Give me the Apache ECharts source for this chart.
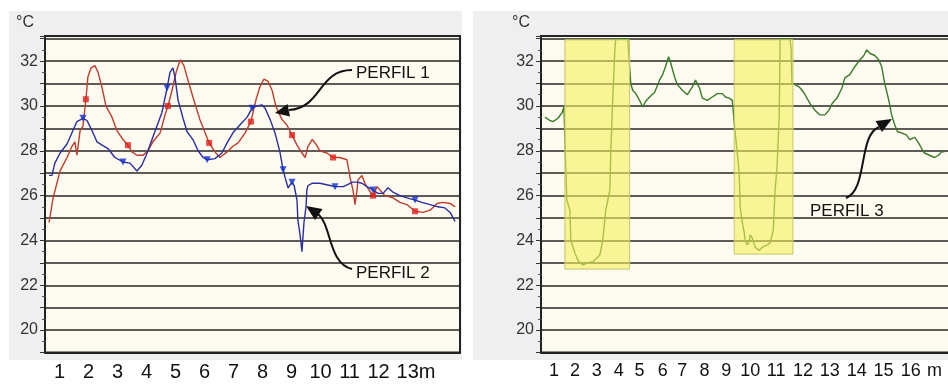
<!DOCTYPE html>
<html>
<head>
<meta charset="utf-8">
<script src="https://cdn.jsdelivr.net/npm/echarts@6/dist/echarts.min.js"></script>
<style>
  html, body { margin: 0; padding: 0; background: #fff; }
  #chart { width: 948px; height: 385px; }
</style>
</head>
<body>
<div id="chart"></div>
<script type="text/javascript">
// perfil 1 (red)
var redX = [0.64,0.78,1.02,1.26,1.43,1.53,1.60,1.71,1.81,1.91,1.98,2.09,2.22,2.33,2.47,2.60,2.81,2.98,3.19,3.36,3.50,3.67,3.88,4.05,4.22,4.47,4.64,4.74,4.88,5.02,5.16,5.29,5.43,5.60,5.84,6.02,6.16,6.36,6.53,6.78,6.98,7.16,7.40,7.60,7.78,7.91,8.05,8.19,8.33,8.47,8.67,8.84,9.02,9.19,9.36,9.47,9.57,9.71,9.84,9.98,10.22,10.43,10.67,10.91,10.98,11.02,11.12,11.19,11.26,11.29,11.43,11.53,11.67,11.81,11.95,12.05,12.22,12.50,12.74,12.98,13.26,13.53,13.78,14.02,14.22,14.47,14.64];
var redY = [24.8,25.9,27.1,27.7,28.2,28.4,27.8,28.9,29.1,30.3,31.3,31.7,31.8,31.5,30.8,30.0,29.5,28.9,28.5,28.25,27.95,27.8,27.8,28.0,28.4,28.8,29.6,30.0,30.7,31.5,32.05,31.8,31.15,30.4,29.4,28.8,28.35,27.95,27.7,27.95,28.2,28.35,28.8,29.3,30.3,30.85,31.2,31.1,30.7,29.95,29.4,29.15,28.7,28.25,27.9,27.7,28.2,28.5,28.3,28.0,27.9,27.7,27.7,27.6,27.1,26.8,26.25,25.6,26.25,26.7,26.9,26.55,26.25,26.0,26.4,26.25,26.0,25.9,25.7,25.6,25.3,25.25,25.35,25.65,25.7,25.65,25.5];
var redMarkX = [1.91,3.36,4.74,6.16,7.60,9.02,10.43,11.81,13.26];
var redMarkY = [30.3,28.25,30.0,28.35,29.3,28.7,27.7,26.0,25.3];

// perfil 2 (blue)
var blueX = [0.64,0.74,0.84,1.02,1.26,1.43,1.60,1.81,1.95,2.12,2.29,2.47,2.67,2.91,3.19,3.43,3.67,3.84,4.02,4.19,4.36,4.53,4.71,4.81,4.91,4.98,5.09,5.26,5.40,5.60,5.78,5.95,6.09,6.36,6.60,6.78,6.98,7.22,7.47,7.64,7.81,7.98,8.09,8.26,8.43,8.60,8.71,8.78,8.88,9.02,9.09,9.19,9.22,9.29,9.36,9.43,9.50,9.53,9.57,9.71,9.98,10.33,10.50,10.78,10.95,11.09,11.26,11.43,11.60,11.81,11.98,12.16,12.33,12.50,12.74,12.98,13.26,13.50,13.78,14.05,14.29,14.47,14.64];
var blueY = [26.9,26.9,27.45,27.9,28.3,28.8,29.3,29.45,29.35,28.9,28.4,28.25,28.1,27.7,27.5,27.45,27.1,27.35,27.9,28.5,29.1,29.7,30.8,31.5,31.7,31.3,30.25,29.45,28.85,28.5,28.0,27.7,27.6,27.65,27.9,28.35,28.8,29.15,29.5,29.9,30.0,30.05,29.9,29.4,28.8,27.95,27.15,26.8,26.35,26.6,26.45,25.8,24.9,24.3,23.5,24.8,25.5,26.25,26.45,26.55,26.55,26.45,26.4,26.4,26.5,26.6,26.6,26.55,26.4,26.25,26.1,26.1,26.35,26.15,26.0,25.9,25.8,25.7,25.6,25.5,25.45,25.25,24.85];
var blueMarkX = [1.81,3.19,4.71,6.09,7.64,8.71,9.02,10.50,11.81,13.26];
var blueMarkY = [29.45,27.5,30.8,27.6,29.9,27.15,26.6,26.4,26.25,25.8];

// perfil 3 (green)
var greenX = [0.62,0.83,0.96,1.17,1.34,1.42,1.54,1.67,1.71,1.88,2.01,2.21,2.42,2.63,2.93,3.05,3.18,3.35,3.39,3.47,3.56,3.60,4.10,4.18,4.23,4.31,4.44,4.60,4.73,4.85,5.02,5.23,5.44,5.57,5.69,5.82,5.90,6.07,6.19,6.40,6.61,6.82,6.95,7.12,7.24,7.45,7.66,7.87,8.08,8.21,8.37,8.50,8.58,8.62,8.71,8.79,8.83,8.92,9.00,9.04,9.13,9.21,9.25,9.34,9.46,9.63,9.76,9.97,10.09,10.22,10.26,10.30,10.38,10.47,10.51,10.93,10.97,11.01,11.14,11.31,11.43,11.56,11.77,11.98,12.19,12.39,12.56,12.69,12.90,13.11,13.23,13.44,13.65,13.86,14.03,14.15,14.28,14.49,14.66,14.78,14.91,15.08,15.20,15.33,15.45,15.62,15.83,15.96,16.17,16.33,16.46,16.58,16.79,17.00,17.17,17.30,17.42];
var greenY = [29.5,29.35,29.3,29.45,29.7,29.95,25.8,25.35,24.0,23.45,23.1,22.9,23.0,23.05,23.35,24.0,25.35,26.25,28.0,30.25,32.5,33.0,33.0,31.75,31.0,30.7,30.55,30.25,29.95,30.2,30.4,30.6,31.15,31.4,31.75,32.2,31.95,31.3,30.95,30.7,30.5,30.85,31.15,30.8,30.35,30.25,30.4,30.55,30.55,30.4,30.35,30.25,30.2,28.8,27.9,27.0,25.5,24.8,24.35,24.0,23.8,23.95,24.25,24.1,23.7,23.55,23.7,23.8,23.9,24.45,25.35,26.25,27.3,29.5,33.0,33.0,32.5,31.0,30.95,30.85,30.7,30.5,30.1,29.8,29.6,29.6,29.8,30.1,30.35,30.8,31.25,31.4,31.75,32.05,32.25,32.5,32.35,32.25,32.05,31.75,31.0,30.25,29.6,29.15,28.85,28.8,28.7,28.5,28.6,28.35,28.1,27.9,27.8,27.7,27.8,27.95,27.95];
// shaded (yellow) zones: [xStart, xEnd, yLow, yHigh]
var zones = [[1.46, 4.18, 22.72, 32.95], [8.58, 11.05, 23.39, 32.95]];

// tick labels
var leftLabelPos = [1,2,3,4,5,6,7,8,9,10,11,12,13];
var leftLabelText = ['1','2','3','4','5','6','7','8','9','10','11','12','13m'];
var rightLabelPos = [1,1.88,2.80,3.72,4.60,5.57,6.40,7.33,8.25,9.25,10.34,11.47,12.60,13.73,14.86,16.0,17.0];
var rightLabelText = ['1','2','3','4','5','6','7','8','9','10','11','12','13','14','15','16','m'];
var yLabels = [20,22,24,26,28,30,32];

function pairs(xs, ys) {
    return xs.map(function (x, i) { return [x, ys[i]]; });
}

var font = "'Liberation Sans', Arial, sans-serif";

function makeY(idx) {
    return {
        gridIndex: idx, type: 'value', min: 19, max: 33.12, interval: 1,
        name: '°C', nameLocation: 'end', nameGap: 5,
        nameTextStyle: { fontSize: 16, color: '#333', fontFamily: font, align: 'right', padding: [0, 11, 0, 0] },
        axisLine: { show: true, lineStyle: { color: '#222', width: 2 } },
        axisTick: { show: true, length: 5, lineStyle: { color: '#333' } },
        minorTick: { show: true, splitNumber: 2, length: 3, lineStyle: { color: '#555' } },
        splitLine: { show: true, lineStyle: { color: '#262626', width: 1.6 } },
        axisLabel: {
            fontSize: 16, color: '#333', fontFamily: font, margin: 7,
            formatter: function (v) { return yLabels.indexOf(v) >= 0 ? String(v) : ''; }
        }
    };
}

var chart = echarts.init(document.getElementById('chart'));
var option = {
    animation: false,
    backgroundColor: '#fff',
    graphic: [
        { type: 'rect', z: -10, shape: { x: 9, y: 11, width: 453, height: 349 }, style: { fill: '#efefef' } },
        { type: 'rect', z: -10, shape: { x: 473, y: 11, width: 480, height: 349 }, style: { fill: '#efefef' } },
        // PERFIL 1
        { type: 'text', z: 100, style: { text: 'PERFIL 1', x: 356, y: 73, fontSize: 17, fontFamily: font, fill: '#111', verticalAlign: 'middle' } },
        { type: 'bezierCurve', z: 100, shape: { x1: 352, y1: 70, cpx1: 318, cpy1: 70, cpx2: 322, cpy2: 108, x2: 289, y2: 110 }, style: { stroke: '#111', lineWidth: 2, fill: null } },
        { type: 'polygon', z: 100, shape: { points: [[275, 113], [290, 116.5], [287.5, 104]] }, style: { fill: '#111' } },
        // PERFIL 2
        { type: 'text', z: 100, style: { text: 'PERFIL 2', x: 356, y: 273, fontSize: 17, fontFamily: font, fill: '#111', verticalAlign: 'middle' } },
        { type: 'bezierCurve', z: 100, shape: { x1: 352, y1: 269, cpx1: 328, cpy1: 263, cpx2: 332, cpy2: 226, x2: 318, y2: 214 }, style: { stroke: '#111', lineWidth: 2, fill: null } },
        { type: 'polygon', z: 100, shape: { points: [[306, 206], [322.5, 209], [315, 220]] }, style: { fill: '#111' } },
        // PERFIL 3
        { type: 'text', z: 100, style: { text: 'PERFIL 3', x: 810, y: 211, fontSize: 17, fontFamily: font, fill: '#111', verticalAlign: 'middle' } },
        { type: 'bezierCurve', z: 100, shape: { x1: 846, y1: 198, cpx1: 868, cpy1: 190, cpx2: 858, cpy2: 135, x2: 879, y2: 127 }, style: { stroke: '#111', lineWidth: 2, fill: null } },
        { type: 'polygon', z: 100, shape: { points: [[892, 119], [882, 132], [875.5, 121]] }, style: { fill: '#111' } }
    ],
    grid: [
        { left: 45, top: 36, width: 415, height: 316.5, show: true, backgroundColor: '#fdfaf0', borderColor: '#222', borderWidth: 2, outerBoundsMode: 'none' },
        { left: 541, top: 36, width: 422, height: 316.5, show: true, backgroundColor: '#fdfaf0', borderColor: '#222', borderWidth: 2, outerBoundsMode: 'none' }
    ],
    xAxis: [
        {
            gridIndex: 0, type: 'value', min: 0.5, max: 14.81,
            splitLine: { show: false },
            axisLine: { show: true, lineStyle: { color: '#222', width: 2 } },
            axisTick: { show: false },
            axisLabel: {
                customValues: leftLabelPos, fontSize: 20, color: '#111', fontFamily: font, margin: 10,
                formatter: function (v) {
                    var t = leftLabelText[leftLabelPos.indexOf(v)];
                    return t === '13m' ? '{m|13m}' : t;
                },
                rich: { m: { fontSize: 20, color: '#111', fontFamily: font, padding: [0, 0, 0, 17] } }
            }
        },
        {
            gridIndex: 1, type: 'value', min: 0.455, max: 18.2,
            splitLine: { show: false },
            axisLine: { show: true, lineStyle: { color: '#222', width: 2 } },
            axisTick: { show: false },
            axisLabel: {
                customValues: rightLabelPos, fontSize: 18, color: '#111', fontFamily: font, margin: 10,
                formatter: function (v) { return rightLabelText[rightLabelPos.indexOf(v)]; }
            }
        }
    ],
    yAxis: [makeY(0), makeY(1)],
    series: [
        {
            name: 'PERFIL 1', type: 'line', xAxisIndex: 0, yAxisIndex: 0,
            data: pairs(redX, redY), symbol: 'none',
            lineStyle: { color: '#c03c2c', width: 1.4 }
        },
        {
            name: 'PERFIL 1 pts', type: 'scatter', xAxisIndex: 0, yAxisIndex: 0,
            data: pairs(redMarkX, redMarkY), symbol: 'rect', symbolSize: 6,
            itemStyle: { color: '#e0201a' }, z: 4
        },
        {
            name: 'PERFIL 2', type: 'line', xAxisIndex: 0, yAxisIndex: 0,
            data: pairs(blueX, blueY), symbol: 'none',
            lineStyle: { color: '#2a2ea0', width: 1.4 }
        },
        {
            name: 'PERFIL 2 pts', type: 'scatter', xAxisIndex: 0, yAxisIndex: 0,
            data: pairs(blueMarkX, blueMarkY), symbol: 'triangle', symbolRotate: 180, symbolSize: 7,
            itemStyle: { color: '#1030d0' }, z: 4
        },
        {
            name: 'PERFIL 3', type: 'line', xAxisIndex: 1, yAxisIndex: 1,
            data: pairs(greenX, greenY), symbol: 'none',
            lineStyle: { color: '#3a7a28', width: 1.4 }
        },
        {
            name: 'zonas', type: 'custom', xAxisIndex: 1, yAxisIndex: 1, z: 5,
            data: zones,
            renderItem: function (params, api) {
                var p1 = api.coord([api.value(0), api.value(3)]);
                var p2 = api.coord([api.value(1), api.value(2)]);
                return {
                    type: 'rect',
                    shape: { x: p1[0], y: p1[1], width: p2[0] - p1[0], height: p2[1] - p1[1] },
                    style: { fill: 'rgba(246,240,90,0.6)', stroke: '#c4c86a', lineWidth: 1 }
                };
            }
        }
    ]
};
chart.setOption(option);
</script>
</body>
</html>
